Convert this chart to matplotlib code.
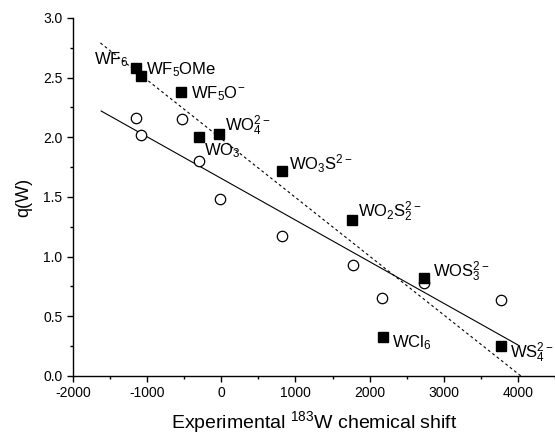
import numpy as np
import matplotlib
matplotlib.use('Agg')
import matplotlib.pyplot as plt
from matplotlib.ticker import MultipleLocator

plt.rcParams['font.family'] = ['Liberation Sans', 'DejaVu Sans']
plt.rcParams['mathtext.fontset'] = 'custom'
plt.rcParams['mathtext.rm'] = 'Liberation Sans'
plt.rcParams['mathtext.it'] = 'Liberation Sans:italic'
plt.rcParams['mathtext.bf'] = 'Liberation Sans:bold'
plt.rcParams['axes.unicode_minus'] = False

# filled squares (compounds)
sq_x = [-1150, -1085, -540, -300, -25, 815, 1765, 2740, 2185, 3770]
sq_y = [2.58, 2.51, 2.38, 2.00, 2.03, 1.72, 1.31, 0.82, 0.33, 0.25]

# open circles
circ_x = [-1150, -1085, -530, -300, -15, 825, 1775, 2170, 2740, 3770]
circ_y = [2.16, 2.02, 2.15, 1.80, 1.48, 1.17, 0.93, 0.65, 0.78, 0.64]

# fit lines (endpoints)
solid_x = [-1620, 4000]
solid_y = [2.22, 0.26]
dash_x = [-1630, 4040]
dash_y = [2.79, 0.0]

# labels
lab_text = [r'WF$_6$', r'WF$_5$OMe', r'WF$_5$O$^{-}$', r'WO$_3$', r'WO$_4^{2-}$',
            r'WO$_3$S$^{2-}$', r'WO$_2$S$_2^{2-}$', r'WOS$_3^{2-}$', r'WCl$_6$', r'WS$_4^{2-}$']
lab_x = [-1710, -1015, -405, -230, 55, 910, 1845, 2850, 2305, 3895]
lab_y = [2.61, 2.53, 2.33, 1.85, 2.05, 1.73, 1.33, 0.83, 0.24, 0.15]

fig = plt.figure(figsize=(5.55, 4.38), dpi=100)
ax = fig.add_axes([0.1315, 0.1416, 0.8685, 0.8175])

ax.plot(solid_x, solid_y, color='black', lw=0.8)
ax.plot(dash_x, dash_y, color='black', lw=0.8, linestyle=(0, (2.5, 2.5)))
ax.plot(circ_x, circ_y, 'o', mfc='white', mec='black', mew=0.9, ms=7.5, ls='none')
ax.plot(sq_x, sq_y, 's', color='black', ms=6.5, ls='none')

for t, x, y in zip(lab_text, lab_x, lab_y):
    ax.text(x, y, t, fontsize=12, va='baseline', ha='left')

ax.set_xlim(-2000, 4500)
ax.set_ylim(0, 3.0)
ax.xaxis.set_major_locator(MultipleLocator(1000))
ax.xaxis.set_minor_locator(MultipleLocator(500))
ax.yaxis.set_major_locator(MultipleLocator(0.5))
ax.yaxis.set_minor_locator(MultipleLocator(0.25))
ax.yaxis.set_major_formatter(matplotlib.ticker.FormatStrFormatter('%.1f'))
ax.tick_params(which='major', direction='out', length=4, width=1, labelsize=10)
ax.tick_params(which='minor', direction='out', length=2.5, width=1)

ax.spines['top'].set_visible(False)
ax.spines['right'].set_visible(False)
ax.spines['left'].set_linewidth(1)
ax.spines['bottom'].set_linewidth(1)

ax.set_ylabel('q(W)', fontsize=13, labelpad=8)
ax.set_xlabel(r'Experimental $^{183}$W chemical shift', fontsize=14, labelpad=6)

fig.savefig('out.png', dpi=100)
